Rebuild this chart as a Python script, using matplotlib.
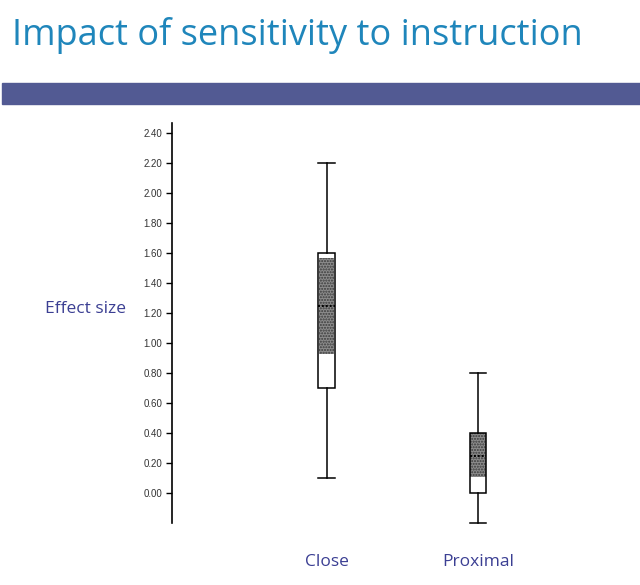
import matplotlib
matplotlib.use("Agg")
import matplotlib.pyplot as plt
from matplotlib.patches import Rectangle

# datos
categorias = ["Close", "Proximal"]
bigote_inf = [0.10, -0.20]
caja_inf = [0.70, 0.00]
mediana = [1.25, 0.25]
caja_sup = [1.60, 0.40]
bigote_sup = [2.20, 0.80]
sombra_inf = [0.93, 0.11]
sombra_sup = [1.57, 0.40]
ticks_y = [0.00, 0.20, 0.40, 0.60, 0.80, 1.00, 1.20, 1.40, 1.60, 1.80, 2.00, 2.20, 2.40]

W, H = 640, 585
fig = plt.figure(figsize=(W / 100, H / 100), dpi=100)

# titulo y barra
fig.text(12 / W, 1 - 35 / H, "Impact of sensitivity to instruction", fontsize=26,
         color="#1f86bb", family="Open Sans", va="center", ha="left")
fig.patches.append(Rectangle((2 / W, 1 - 104 / H), 638 / W, 21 / H,
                             transform=fig.transFigure, color="#525a93"))

ax = fig.add_axes([172 / W, 1 - 523 / H, 459 / W, 400 / H])
pos = [1.01, 2.0]
stats = []
for i in range(len(categorias)):
    stats.append(dict(whislo=bigote_inf[i], q1=caja_inf[i], med=mediana[i],
                      q3=caja_sup[i], whishi=bigote_sup[i], fliers=[]))

ax.bar(pos, [h - l for h, l in zip(sombra_sup, sombra_inf)], bottom=sombra_inf,
       width=0.1, color="#8c8c8c", hatch="......", edgecolor="#3a3a3a", linewidth=0, zorder=1)
res = ax.bxp(stats, positions=pos, widths=0.105, showfliers=False, patch_artist=True,
             boxprops=dict(facecolor="none", edgecolor="black", linewidth=1.1),
             whiskerprops=dict(color="black", linewidth=1.1),
             capprops=dict(color="black", linewidth=1.1),
             medianprops=dict(color="black", linestyle=(0, (1, 1)), linewidth=1.4),
             capwidths=0.105, zorder=2)
for ln in res["caps"] + res["whiskers"]:
    ln.set_clip_on(False)

ax.set_xlim(0, 3)
ax.set_ylim(-0.2, 2.467)
ax.set_yticks(ticks_y)
ax.set_yticklabels([f"{t:.2f}" for t in ticks_y], fontsize=7, color="#333333",
                   family="Liberation Sans")
ax.tick_params(axis="y", direction="out", length=4, width=1, pad=3)
ax.set_xticks([])
for s in ["top", "right", "bottom"]:
    ax.spines[s].set_visible(False)
ax.spines["left"].set_linewidth(1.2)
ax.set_facecolor("none")

# etiquetas
for i, c in enumerate(categorias):
    x = ax.transData.transform((pos[i], 0))[0] / W
    fig.text(x, 1 - 562 / H, c, fontsize=12.5, color="#3b3f93", family="Open Sans",
             ha="center", va="center")
fig.text(45 / W, 1 - 309 / H, "Effect size", fontsize=12.5, color="#3b3f93",
         family="Open Sans", ha="left", va="center")

fig.savefig("out.png", dpi=100)
